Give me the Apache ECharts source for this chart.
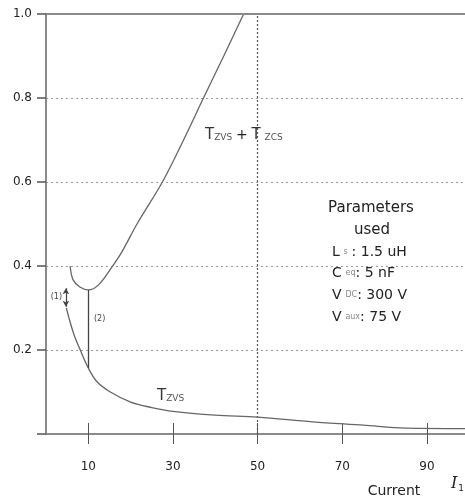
<!DOCTYPE html>
<html>
<head>
<meta charset="utf-8">
<script src="https://cdn.jsdelivr.net/npm/echarts@6/dist/echarts.min.js"></script>
<style>
html,body{margin:0;padding:0;background:#fff;}
#c{width:465px;height:500px;}
</style>
</head>
<body>
<div id="c"></div>
<script>
// ---- data ----
const xTickValues = [10, 30, 50, 70, 90];
const yTickLabels = ['0.2', '0.4', '0.6', '0.8', '1.0'];

// T_ZVS + T_ZCS curve
const upperX = [5.7, 6.4, 8.0, 10.0, 12.4, 15.4, 18.0, 21.5, 27.5, 32.5, 37.2, 42.0, 46.7];
const upperY = [0.400, 0.367, 0.350, 0.343, 0.355, 0.395, 0.435, 0.500, 0.600, 0.700, 0.800, 0.900, 1.000];

// T_ZVS curve
const lowerX = [4.8, 6.5, 8.1, 10.0, 12.0, 15.2, 20.0, 25.0, 30.0, 40.0, 50.0, 63.0, 75.0, 85.0, 99.0];
const lowerY = [0.300, 0.240, 0.200, 0.157, 0.125, 0.100, 0.076, 0.063, 0.054, 0.045, 0.040, 0.029, 0.021, 0.014, 0.013];

// annotation spans
const span1 = [[4.7, 0.347], [4.7, 0.303]];
const span2 = [[10, 0.343], [10, 0.157]];
const refX = 50;

const upper = upperX.map((x, i) => [x, upperY[i]]);
const lower = lowerX.map((x, i) => [x, lowerY[i]]);

const FONT = 'DejaVu Sans';
const chart = echarts.init(document.getElementById('c'), null, {renderer: 'canvas'});

const axisGray = '#8a8a8a';
const curveColor = '#666';

chart.setOption({
  animation: false,
  backgroundColor: '#fff',
  grid: {left: 46, right: 0, top: 14, bottom: 66, containLabel: false},
  xAxis: [{
    type: 'value', min: 0, max: 99, position: 'bottom',
    axisLine: {show: true, lineStyle: {color: axisGray, width: 2}},
    axisTick: {show: true, customValues: xTickValues, length: 10, lineStyle: {color: '#555', width: 1}},
    axisLabel: {customValues: xTickValues, margin: 27, fontFamily: FONT, fontSize: 12, color: '#222'},
    splitLine: {show: false}
  }, {
    type: 'value', min: 0, max: 99, position: 'bottom',
    axisLine: {show: false},
    axisTick: {show: true, inside: true, customValues: xTickValues, length: 11, lineStyle: {color: '#555', width: 1}},
    axisLabel: {show: false},
    splitLine: {show: false}
  }],
  yAxis: {
    type: 'value', min: 0, max: 1, interval: 0.2,
    axisLine: {show: true, lineStyle: {color: axisGray, width: 2}},
    axisTick: {show: true, length: 9, lineStyle: {color: '#555', width: 1.5}},
    axisLabel: {
      margin: 14, fontFamily: FONT, fontSize: 12, color: '#222',
      formatter: v => {
        const idx = Math.round(v / 0.2) - 1;
        return idx >= 0 ? yTickLabels[idx] : '';
      }
    },
    splitLine: {show: true, lineStyle: {color: '#9a9a9a', width: 1, type: [2, 3]}}
  },
  series: [
    {
      type: 'line', xAxisIndex: 0, data: upper, smooth: 0.35,
      showSymbol: false, lineStyle: {color: curveColor, width: 1.3},
      markLine: {
        silent: true, symbol: ['none', 'none'], animation: false, label: {show: false},
        data: [
          [{coord: [0, 1]}, {coord: [99, 1]}],
        ],
        lineStyle: {color: axisGray, width: 2, type: 'solid'}
      }
    },
    {
      type: 'line', xAxisIndex: 0, data: lower, smooth: 0.35,
      showSymbol: false, lineStyle: {color: curveColor, width: 1.3},
      markLine: {
        silent: true, symbol: ['none', 'none'], animation: false, label: {show: false},
        data: [
          [{coord: [refX, 0]}, {coord: [refX, 1]}]
        ],
        lineStyle: {color: '#555', width: 1.2, type: [2, 2]}
      }
    },
    {
      type: 'line', xAxisIndex: 0, data: [], showSymbol: false,
      markLine: {
        silent: true, animation: false, label: {show: false},
        symbol: ['arrow', 'arrow'], symbolSize: [5, 6],
        data: [
          [{coord: span1[0]}, {coord: span1[1]}]
        ],
        lineStyle: {color: '#444', width: 1.2, type: 'solid'}
      }
    },
    {
      type: 'line', xAxisIndex: 0, data: [], showSymbol: false,
      markLine: {
        silent: true, animation: false, label: {show: false},
        symbol: ['rect', 'circle'], symbolSize: [[6, 1.5], 4],
        data: [
          [{coord: span2[0]}, {coord: span2[1]}]
        ],
        lineStyle: {color: '#444', width: 1.3, type: 'solid'}
      }
    }
  ],
  graphic: [
    {type: 'text', style: {
      x: 205, y: 135, textVerticalAlign: 'middle', fontFamily: FONT,
      text: '{t|T}{s|ZVS} {p|+} {t|T} {s|ZCS}',
      rich: {
        t: {fontSize: 15, fontFamily: FONT, fill: '#333'},
        s: {fontSize: 9, fontFamily: FONT, fill: '#555', padding: [5, 0, 0, 0]},
        p: {fontSize: 14, fontFamily: FONT, fill: '#222'}
      }
    }},
    {type: 'text', style: {
      x: 157, y: 396, textVerticalAlign: 'middle', fontFamily: FONT,
      text: '{t|T}{s|ZVS}',
      rich: {
        t: {fontSize: 15, fontFamily: FONT, fill: '#333'},
        s: {fontSize: 9, fontFamily: FONT, fill: '#555', padding: [5, 0, 0, 0]}
      }
    }},
    {type: 'text', style: {x: 371, y: 208, textAlign: 'center', textVerticalAlign: 'middle',
      text: 'Parameters', fontFamily: FONT, fontSize: 15, fill: '#222'}},
    {type: 'text', style: {x: 372, y: 230, textAlign: 'center', textVerticalAlign: 'middle',
      text: 'used', fontFamily: FONT, fontSize: 15, fill: '#222'}},
    {type: 'text', style: {x: 332, y: 252, textVerticalAlign: 'middle', fontFamily: FONT,
      text: '{b|L} {s|s} {b|: 1.5 uH}',
      rich: {b: {fontSize: 14, fontFamily: FONT, fill: '#222'}, s: {fontSize: 8, fontFamily: FONT, fill: '#888'}}}},
    {type: 'text', style: {x: 332, y: 273, textVerticalAlign: 'middle', fontFamily: FONT,
      text: '{b|C} {s|eq}{b|: 5 nF}',
      rich: {b: {fontSize: 14, fontFamily: FONT, fill: '#222'}, s: {fontSize: 8, fontFamily: FONT, fill: '#888'}}}},
    {type: 'text', style: {x: 332, y: 295, textVerticalAlign: 'middle', fontFamily: FONT,
      text: '{b|V} {s|DC}{b|: 300 V}',
      rich: {b: {fontSize: 14, fontFamily: FONT, fill: '#222'}, s: {fontSize: 8, fontFamily: FONT, fill: '#888'}}}},
    {type: 'text', style: {x: 332, y: 317, textVerticalAlign: 'middle', fontFamily: FONT,
      text: '{b|V} {s|aux}{b|: 75 V}',
      rich: {b: {fontSize: 14, fontFamily: FONT, fill: '#222'}, s: {fontSize: 8, fontFamily: FONT, fill: '#888'}}}},
    {type: 'text', style: {x: 62, y: 297, textAlign: 'right', textVerticalAlign: 'middle',
      text: '(1)', fontFamily: FONT, fontSize: 8, fill: '#444'}},
    {type: 'text', style: {x: 94, y: 319, textVerticalAlign: 'middle',
      text: '(2)', fontFamily: FONT, fontSize: 8, fill: '#444'}},
    {type: 'text', style: {x: 394, y: 491, textAlign: 'center', textVerticalAlign: 'middle',
      text: 'Current', fontFamily: FONT, fontSize: 14, fill: '#222'}},
    {type: 'text', style: {x: 451, y: 484, textVerticalAlign: 'middle', fontFamily: 'DejaVu Serif',
      text: '{i|I}{s|1}',
      rich: {i: {fontSize: 16, fontStyle: 'italic', fontFamily: 'DejaVu Serif', fill: '#222'},
             s: {fontSize: 9, fontFamily: FONT, fill: '#222', padding: [10, 0, 0, 1]}}}}
  ]
});
</script>
</body>
</html>
